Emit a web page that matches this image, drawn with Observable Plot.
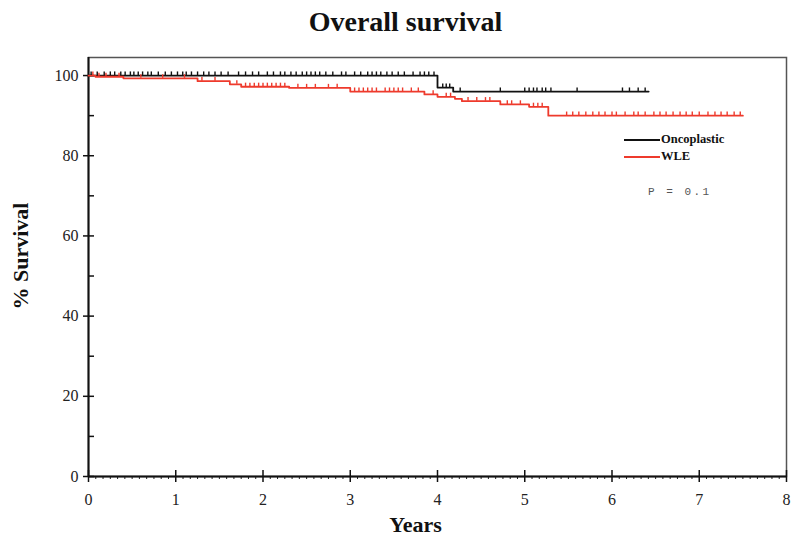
<!DOCTYPE html>
<html>
<head>
<meta charset="utf-8">
<script src="https://cdn.jsdelivr.net/npm/d3@7"></script>
<script src="https://cdn.jsdelivr.net/npm/@observablehq/plot@0.6"></script>
<style>
  html, body { margin: 0; padding: 0; background: #fff; }
  #wrap { position: relative; width: 793px; height: 538px; }
  .leg { position: absolute; font-family: "Liberation Serif", serif; font-weight: bold; font-size: 12.5px; color: #111; white-space: nowrap; }
  .legline { position: absolute; height: 0; }
  #pval { position: absolute; font-family: "Liberation Mono", "DejaVu Sans Mono", monospace; font-size: 11px; letter-spacing: 2.5px; color: #555; white-space: nowrap; }
</style>
</head>
<body>
<div id="wrap"></div>
<script>
// ---- data ----
const title = "Overall survival";
const xLabel = "Years";
const yLabel = "% Survival";
const seriesNames = ["Oncoplastic", "WLE"];
const seriesColors = ["#111111", "#ee3a2c"];
const pText = "P = 0.1";

const oncoTimes = [0, 4.0, 4.18, 6.42];
const oncoSurv  = [100, 97.0, 96.0, 96.0];

const wleTimes = [0, 0.08, 0.4, 1.25, 1.62, 1.75, 2.3, 3.0, 3.85, 4.0, 4.2, 4.28, 4.72, 5.05, 5.27, 7.5];
const wleSurv  = [100, 99.7, 99.3, 98.6, 97.8, 97.2, 96.9, 96.0, 95.3, 94.7, 94.2, 93.6, 92.8, 92.2, 90.0, 90.0];

const oncoCensor = [0.03,0.1,0.18,0.25,0.3,0.37,0.42,0.48,0.52,0.57,0.62,0.68,0.72,0.8,0.88,0.95,1.02,1.08,1.12,1.18,1.25,1.32,1.38,1.45,1.52,1.6,1.72,1.8,1.88,1.95,2.05,2.12,2.2,2.25,2.32,2.38,2.45,2.5,2.55,2.6,2.65,2.72,2.8,2.9,2.95,3.05,3.12,3.2,3.25,3.3,3.35,3.42,3.48,3.55,3.62,3.72,3.8,3.85,3.9,3.96,4.06,4.1,4.14,4.26,4.72,5.0,5.05,5.1,5.14,5.2,5.24,5.3,5.6,6.12,6.2,6.3,6.38];
const wleCensor = [0.05,0.12,0.2,0.35,0.6,0.85,1.1,1.3,1.45,1.7,1.8,1.85,1.9,1.95,2.0,2.05,2.1,2.15,2.2,2.25,2.4,2.5,2.6,2.75,2.85,3.05,3.1,3.15,3.2,3.25,3.3,3.4,3.45,3.5,3.55,3.6,3.7,3.78,3.95,4.1,4.15,4.35,4.45,4.55,4.6,4.8,4.85,4.95,5.1,5.15,5.2,5.48,5.55,5.62,5.7,5.78,5.85,5.92,6.0,6.05,6.15,6.25,6.3,6.38,6.48,6.55,6.62,6.7,6.78,6.85,6.92,7.0,7.1,7.18,7.25,7.32,7.4,7.47];

const xMajor = [0, 1, 2, 3, 4, 5, 6, 7, 8];
const xMinor = d3.range(0, 96).map(i => i / 12).filter(v => !xMajor.includes(v));
const yMajor = [0, 20, 40, 60, 80, 100];
const yMinor = [10, 30, 50, 70, 90];

// ---- build ----
function curve(times, surv, name) {
  return times.map((t, i) => ({t, s: surv[i], name}));
}
function survAt(times, surv, t) {
  let s = surv[0];
  for (let i = 0; i < times.length; i++) if (times[i] <= t) s = surv[i];
  return s;
}
const lineData = [...curve(oncoTimes, oncoSurv, seriesNames[0]), ...curve(wleTimes, wleSurv, seriesNames[1])];
const censorData = [
  ...oncoCensor.map(t => ({t, s: survAt(oncoTimes, oncoSurv, t), name: seriesNames[0]})),
  ...wleCensor.map(t => ({t, s: survAt(wleTimes, wleSurv, t), name: seriesNames[1]}))
];

const W = 793, H = 538, mL = 88, mR = 7, mT = 57, mB = 62;
const plotW = W - mL - mR, plotH = H - mT - mB;
const serif = "'Liberation Serif', 'Times New Roman', serif";

const chart = Plot.plot({
  width: W, height: H,
  marginLeft: mL, marginRight: mR, marginTop: mT, marginBottom: mB,
  style: {fontFamily: serif, fontSize: "16px", color: "#222", background: "#fff"},
  x: {domain: [0, 8]},
  y: {domain: [0, 104.5]},
  color: {domain: seriesNames, range: seriesColors},
  marks: [
    Plot.frame({stroke: "#555", strokeWidth: 1.5}),
    // x axis ticks
    Plot.axisX({ticks: xMinor, tickSize: 3, text: null, stroke: "#222", label: null}),
    Plot.axisX({ticks: xMajor, tickSize: 6, tickPadding: 11, tickFormat: d => String(d), stroke: "#111", strokeWidth: 1.5, label: null, fontSize: 16}),
    Plot.gridX({ticks: xMajor, insetTop: plotH - 6, stroke: "#111", strokeOpacity: 1, strokeWidth: 1.5}),
    // y axis ticks
    Plot.axisY({ticks: yMajor, tickSize: 5, tickPadding: 5, tickFormat: d => String(d), stroke: "#111", strokeWidth: 1.5, label: null, fontSize: 16}),
    Plot.gridY({ticks: yMajor, insetRight: plotW - 6, stroke: "#111", strokeOpacity: 1, strokeWidth: 1.5}),
    Plot.gridY({ticks: yMinor, insetRight: plotW - 6, stroke: "#111", strokeOpacity: 1, strokeWidth: 1.5}),
    // axis lines
    Plot.ruleX([0], {stroke: "#111", strokeWidth: 2}),
    Plot.ruleY([0], {stroke: "#111", strokeWidth: 2}),
    // survival curves
    Plot.line(lineData, {x: "t", y: "s", z: "name", stroke: "name", curve: "step-after", strokeWidth: 1.8}),
    Plot.ruleX(censorData, {x: "t", y1: "s", y2: d => d.s + 0.9, stroke: "name", strokeWidth: 1.4}),
    // texts
    Plot.text([title], {frameAnchor: "top", textAnchor: "middle", dx: -32, dy: -35, lineAnchor: "middle", fontSize: 28, fontWeight: "bold", fill: "#111"}),
    Plot.text([xLabel], {frameAnchor: "bottom", textAnchor: "middle", dx: -22, dy: 48, lineAnchor: "middle", fontSize: 22, fontWeight: "bold", fill: "#111"}),
    Plot.text([yLabel], {frameAnchor: "left", textAnchor: "middle", lineAnchor: "middle", dx: -68, dy: -11, rotate: -90, fontSize: 22, fontWeight: "bold", fill: "#111"})
  ]
});

const wrap = document.getElementById("wrap");
wrap.appendChild(chart);

// legend
const legY = [140, 157];
seriesNames.forEach((n, i) => {
  const ln = document.createElement("div");
  ln.className = "legline";
  ln.style.left = "624px"; ln.style.width = "36px"; ln.style.top = (legY[i] - 1) + "px";
  ln.style.borderTop = "2px solid " + seriesColors[i];
  wrap.appendChild(ln);
  const t = document.createElement("div");
  t.className = "leg";
  t.textContent = n;
  t.style.left = "661px"; t.style.top = (legY[i] - 8) + "px";
  wrap.appendChild(t);
});
const p = document.createElement("div");
p.id = "pval";
p.textContent = pText;
p.style.left = "648px"; p.style.top = "186px";
wrap.appendChild(p);
</script>
</body>
</html>
